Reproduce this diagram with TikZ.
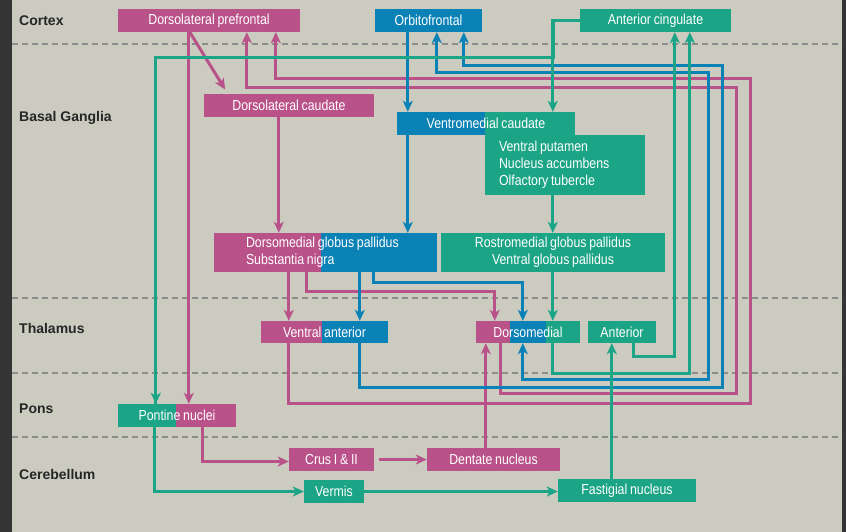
\documentclass[tikz,border=0pt]{standalone}
\usepackage{fontspec}
\setmainfont{Liberation Sans}
\newfontfamily\narrowfont{Liberation Sans}[FakeStretch=0.85,WordSpace=0.8]
\usetikzlibrary{arrows.meta}
\definecolor{pk}{RGB}{186,82,138}
\definecolor{bl}{RGB}{10,130,182}
\definecolor{gn}{RGB}{28,164,134}
\definecolor{bg}{RGB}{203,203,192}
\definecolor{frame}{RGB}{52,52,52}
\begin{document}
\begin{tikzpicture}[x=1pt,y=-1pt,>={Stealth[length=11pt,width=10pt,inset=3pt]},
    main node/.style={inner sep=0pt,minimum height=23pt,text=white,font=\narrowfont\fontsize{14.5}{16.8}\selectfont},
    pink node/.style={main node,fill=pk},
    blue node/.style={main node,fill=bl},
    green node/.style={main node,fill=gn},
    split node/.style n args={3}{main node,fill=#2,path picture={\fill[#1] (path picture bounding box.south west) rectangle ([xshift=#3]path picture bounding box.north west);}},
    region/.style={anchor=west,inner sep=0pt,font=\bfseries\fontsize{14}{16}\selectfont,text=black!85},
    level/.style={black!45,line width=1.2pt,dash pattern=on 6pt off 4pt},
    link/.style={->,line width=3pt}]
        \fill[frame] (0,0) rectangle (846,532);
        \fill[bg] (12,0) rectangle (842,532);
        \useasboundingbox (0,0) rectangle (846,532);

        % levels
        \draw[level] (12,44) -- (842,44);
        \draw[level] (12,298) -- (842,298);
        \draw[level] (12,373) -- (842,373);
        \draw[level] (12,437) -- (842,437);
        \node[region] at (19,21) (cortex) {Cortex};
        \node[region] at (19,118) (basal) {Basal Ganglia};
        \node[region] at (19,328) (thal) {Thalamus};
        \node[region] at (19,409) (pons) {Pons};
        \node[region] at (19,474) (cereb) {Cerebellum};

        % nodes
        \node[pink node, minimum width=182] at (209,20.5) (dlpf) {Dorsolateral prefrontal};
        \node[blue node, minimum width=107] at (428.5,20.5) (ofc) {Orbitofrontal};
        \node[green node, minimum width=151] at (655.5,20.5) (acc) {Anterior cingulate};
        \node[pink node, minimum width=170] at (289,105.5) (dlc) {Dorsolateral caudate};
        \node[split node={bl}{gn}{88}, minimum width=178] at (486,123.5) (vmc) {Ventromedial caudate};
        \node[green node, minimum height=60, text width=132, inner xsep=14, align=flush left] at (565,165) (vput) {Ventral putamen\\Nucleus accumbens\\Olfactory tubercle};
        \node[split node={pk}{bl}{107}, minimum height=39, text width=159, inner xsep=32, align=flush left] at (325.5,252.5) (dmgp) {Dorsomedial globus pallidus\\Substantia nigra};
        \node[green node, minimum width=224, minimum height=39, align=center] at (553,252.5) (rmgp) {Rostromedial globus pallidus\\Ventral globus pallidus};
        \node[split node={pk}{bl}{61}, minimum width=127, minimum height=22] at (324.5,332) (va) {Ventral anterior};
        \node[main node, fill=gn, minimum width=104, minimum height=22, path picture={
            \fill[pk] (path picture bounding box.south west) rectangle ([xshift=34]path picture bounding box.north west);
            \fill[bl] ([xshift=34]path picture bounding box.south west) rectangle ([xshift=70]path picture bounding box.north west);}] at (528,332) (dm) {Dorsomedial};
        \node[green node, minimum width=68, minimum height=22] at (622,332) (ant) {Anterior};
        \node[split node={gn}{pk}{58}, minimum width=118] at (177,415.5) (pon) {Pontine nuclei};
        \node[pink node, minimum width=85] at (331.5,459.5) (crus) {Crus I \& II};
        \node[pink node, minimum width=133] at (493.5,459.5) (dent) {Dentate nucleus};
        \node[green node, minimum width=60] at (334,491.5) (verm) {Vermis};
        \node[green node, minimum width=138] at (627,490.5) (fast) {Fastigial nucleus};

        % pink loop
        \draw[link,pk] ([xshift=71]dlpf.south west) -- ([xshift=71]pon.north west);
        \draw[link,pk,shorten >=5pt] ([xshift=72]dlpf.south west) -- ([xshift=24]dlc.north west);
        \draw[link,pk] ([xshift=75]dlc.south west) -- ([xshift=65]dmgp.north west);
        \draw[link,pk] ([xshift=75]dmgp.south west) -- ([xshift=28]va.north west);
        \draw[link,pk] ([xshift=93]dmgp.south west) -- ++(0,19) -| ([xshift=19]dm.north west);
        \draw[link,pk] ([xshift=28]va.south west) -- ++(0,60) -| (750,79) -| ([xshift=158]dlpf.south west);
        \draw[link,pk] ([xshift=25]dm.south west) -- ++(0,50) -| (736,88) -| ([xshift=129]dlpf.south west);
        \draw[link,pk] ([xshift=85]pon.south west) |- ([yshift=-2]crus.west);
        \draw[link,pk,shorten <=5pt] (crus.east) -- (dent.west);
        \draw[link,pk] ([xshift=59]dent.north west) -- ([xshift=10]dm.south west);

        % blue loop
        \draw[link,bl] ([xshift=33]ofc.south west) -- ([xshift=11]vmc.north west);
        \draw[link,bl] ([xshift=11]vmc.south west) -- ([xshift=194]dmgp.north west);
        \draw[link,bl] ([xshift=146]dmgp.south west) -- ([xshift=99]va.north west);
        \draw[link,bl] ([xshift=160]dmgp.south west) -- ++(0,10) -| ([xshift=47]dm.north west);
        \draw[link,bl] ([xshift=99]va.south west) -- ++(0,44) -| (722,66) -| ([xshift=89]ofc.south west);
        \draw[link,bl,<->] ([xshift=47]dm.south west) -- ++(0,36) -| (708,73) -| ([xshift=62]ofc.south west);

        % green loop
        \draw[link,gn,-] (acc.west) -| (553,58) -| ([xshift=38]pon.north west);
        \draw[link,gn] ([xshift=38]pon.north west) ++(0,-12) -- ([xshift=38]pon.north west);
        \draw[link,gn] (acc.west) -| ([xshift=156]vmc.north west);
        \draw[link,gn] ([xshift=68]vput.south west) -- ([xshift=112]rmgp.north west);
        \draw[link,gn] ([xshift=112]rmgp.south west) -- ([xshift=77]dm.north west);
        \draw[link,gn] ([xshift=77]dm.south west) -- ++(0,30) -| ([xshift=110]acc.south west);
        \draw[link,gn] ([xshift=46]ant.south west) -- ++(0,13) -| ([xshift=95]acc.south west);
        \draw[link,gn] ([xshift=54]fast.north west) -- ([xshift=24]ant.south west);
        \draw[link,gn] ([xshift=37]pon.south west) |- (verm.west);
        \draw[link,gn] (verm.east) -- (verm.east -| fast.west);
\end{tikzpicture}
\end{document}
